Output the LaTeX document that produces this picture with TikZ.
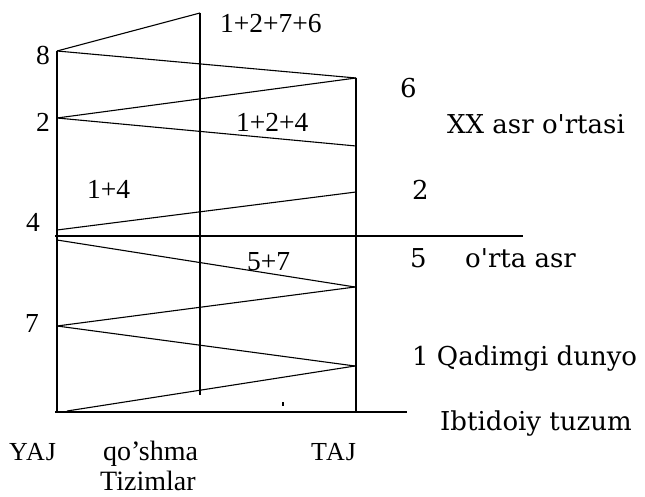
\documentclass[tikz,border=0pt]{standalone}
\usepackage{fontspec}
\setmainfont{Liberation Serif}
\newfontfamily\lblfont{DejaVu Serif}
\newfontfamily\spacedfont[LetterSpace=4]{Liberation Serif}
\begin{document}
\begin{tikzpicture}[x=1pt,y=-1pt,
  ln/.style={line width=1.1pt,black},
  num/.style={inner sep=0pt,font=\fontsize{27.5}{30}\selectfont},
  lbl/.style={inner sep=0pt,font=\lblfont\fontsize{26}{30}\selectfont},
  axl/.style={inner sep=0pt,font=\fontsize{28}{30}\selectfont},
  capl/.style={inner sep=0pt,font=\spacedfont\fontsize{26}{30}\selectfont}]
\useasboundingbox (0,0) rectangle (645,497);
% vertices
\coordinate (L8) at (57,51);
\coordinate (L2) at (57,118);
\coordinate (L4a) at (57,230);
\coordinate (L4b) at (57,240);
\coordinate (L7) at (57,326);
\coordinate (LB) at (57,412);
\coordinate (LB2) at (67,411);
\coordinate (MT) at (200,13);
\coordinate (MB) at (200,395);
\coordinate (R6) at (356,78);
\coordinate (R2a) at (356,146);
\coordinate (R2b) at (356,192);
\coordinate (R5) at (355,287);
\coordinate (R1) at (355,366);
\coordinate (RB) at (356,412);
\coordinate (HL) at (55,236);
\coordinate (HR) at (523,236);
\coordinate (BL) at (55,412);
\coordinate (BR) at (407,412);
\coordinate (T1) at (283,402);
\coordinate (T2) at (283,406);
% frame lines
\draw[ln] (L8) -- (LB);
\draw[ln] (MT) -- (MB);
\draw[ln] (R6) -- (RB);
\draw[ln] (HL) -- (HR);
\draw[ln] (BL) -- (BR);
% zigzag
\draw[ln] (L8) -- (MT);
\draw[ln] (L8) -- (R6);
\draw[ln] (L2) -- (R6);
\draw[ln] (L2) -- (R2a);
\draw[ln] (L4a) -- (R2b);
\draw[ln] (L4b) -- (R5);
\draw[ln] (L7) -- (R5);
\draw[ln] (L7) -- (R1);
\draw[ln] (LB2) -- (R1);
\draw[line width=1.6pt] (T1) -- (T2);
% labels
\node[num,anchor=base west] (s1276) at (220,33) {1+2+7+6};
\node[num,anchor=base east] (n8) at (50,65) {8};
\node[num,anchor=base east] (n2) at (50,132) {2};
\node[num,anchor=base east] (n4) at (40,232) {4};
\node[num,anchor=base east] (n7) at (39,332) {7};
\node[num,anchor=base west] (s124) at (236,132) {1+2+4};
\node[num,anchor=base west] (s14) at (87,199) {1+4};
\node[num,anchor=base west] (s57) at (247,270) {5+7};
\node[lbl,anchor=base west] (r6) at (400,98) {6};
\node[lbl,anchor=base west] (xx) at (447,134) {XX asr o'rtasi};
\node[lbl,anchor=base west] (r2) at (412,200) {2};
\node[lbl,anchor=base west] (r5) at (410,267) {5};
\node[lbl,anchor=base west] (orta) at (465,267) {o'rta asr};
\node[lbl,anchor=base west] (qad) at (412,365) {1 Qadimgi dunyo};
\node[lbl,anchor=base west] (ibt) at (440,430) {Ibtidoiy tuzum};
\node[capl,anchor=base west] (yaj) at (9,460) {YAJ};
\node[axl,anchor=base west] (qos) at (103,460) {qo’shma};
\node[capl,anchor=base west] (taj) at (311,460) {TAJ};
\node[axl,anchor=base west] (tiz) at (100,490) {Tizimlar};
\end{tikzpicture}
\end{document}
